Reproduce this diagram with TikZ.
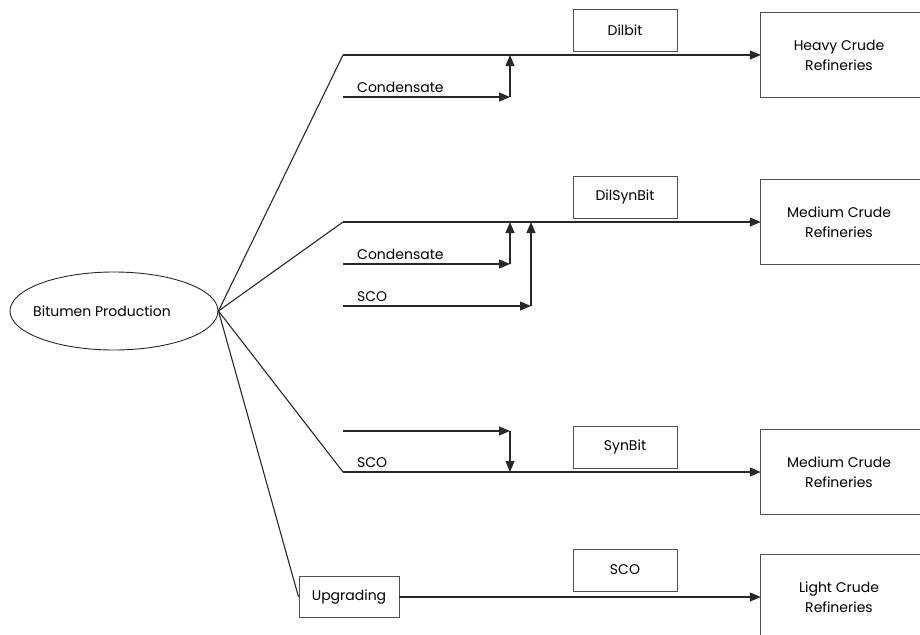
\documentclass[tikz,border=0pt]{standalone}
\usepackage{fontspec}
\setmainfont{Poppins}
\definecolor{flowgray}{RGB}{40, 40, 40}
\definecolor{boxgray}{RGB}{80, 80, 80}
\usetikzlibrary{shapes.geometric, arrows.meta, positioning}

\begin{document}
\begin{tikzpicture}[
        x=1pt, y=-1pt,
        source/.style={
            ellipse, draw=flowgray, line width=0.9pt,
            minimum width=208pt, minimum height=78pt,
            font=\fontsize{14}{20}\selectfont
        },
        product/.style={
            draw=boxgray, line width=0.9pt,
            minimum width=104pt, minimum height=42pt,
            font=\fontsize{14}{20}\selectfont
        },
        refinery/.style={
            minimum width=156pt, minimum height=84pt,
            align=center, font=\fontsize{14}{20}\selectfont
        },
        feed/.style={anchor=base west, inner sep=0pt, font=\fontsize{14}{20}\selectfont},
        flow/.style={line width=1.1pt, draw=flowgray},
        arr/.style={flow, -{Triangle[length=11pt, width=9pt]}},
        boxline/.style={draw=boxgray, line width=0.9pt}
    ]
        \clip (0,0) rectangle (920,634);
        % Source
        \node[source] (bp) at (114, 311) {\makebox[0pt]{\hspace*{-24pt}Bitumen Production}};
        % Refineries
        \node[refinery] (heavy) at (839, 55) {Heavy Crude\\Refineries};
        \node[refinery] (medium) at (839, 222) {Medium Crude\\Refineries};
        \node[refinery] (mediumb) at (839, 472) {Medium Crude\\Refineries};
        \node[refinery] (light) at (839, 597) {Light Crude\\Refineries};
        \foreach \r in {heavy, medium, mediumb, light}
            \draw[boxline] ([xshift=20pt]\r.north east) -- (\r.north west)
                -- (\r.south west) -- ([xshift=20pt]\r.south east);
        % Products
        \node[product] (dilbit) at (625, 30) {Dilbit};
        \node[product] (dilsynbit) at (625, 197) {DilSynBit};
        \node[product] (synbit) at (625, 447) {SynBit};
        \node[product] (sco) at (625, 570) {SCO};
        \node[product, minimum width=100pt, minimum height=41pt] (upg) at (349, 597) {Upgrading};
        % Branch points
        \coordinate (b1) at (343, 55);
        \coordinate (b2) at (343, 222);
        \coordinate (b3) at (343, 472);
        % Blend inputs
        \coordinate (c1) at (343, 97);
        \coordinate (c1e) at (510, 97);
        \coordinate (j1) at (510, 55);
        \coordinate (c2) at (343, 264);
        \coordinate (c2e) at (510, 264);
        \coordinate (j2) at (510, 222);
        \coordinate (s2) at (343, 306);
        \coordinate (s2e) at (531, 306);
        \coordinate (k2) at (531, 222);
        \coordinate (s3) at (343, 431);
        \coordinate (s3e) at (510, 431);
        \coordinate (j3) at (510, 472);
        % Labels
        \node[feed] (lc1) at (357, 92) {Condensate};
        \node[feed] (lc2) at (357, 259) {Condensate};
        \node[feed] (ls2) at (357, 301) {SCO};
        \node[feed] (ls3) at (357, 467) {SCO};
        % Fan
        \draw[flow] (bp.east) -- (b1);
        \draw[flow] (bp.east) -- (b2);
        \draw[flow] (bp.east) -- (b3);
        \draw[flow] (bp.east) -- (upg.west);
        % Main streams
        \draw[arr] (b1) -- (heavy.west);
        \draw[arr] (b2) -- (medium.west);
        \draw[arr] (b3) -- (mediumb.west);
        \draw[arr] (upg.east) -- (light.west);
        % Diluents
        \draw[arr] (c1) -- (c1e);
        \draw[arr] (c1e) -- (j1);
        \draw[arr] (c2) -- (c2e);
        \draw[arr] (c2e) -- (j2);
        \draw[arr] (s2) -- (s2e);
        \draw[arr] (s2e) -- (k2);
        \draw[arr] (s3) -- (s3e);
        \draw[arr] (s3e) -- (j3);
    \end{tikzpicture}
\end{document}
